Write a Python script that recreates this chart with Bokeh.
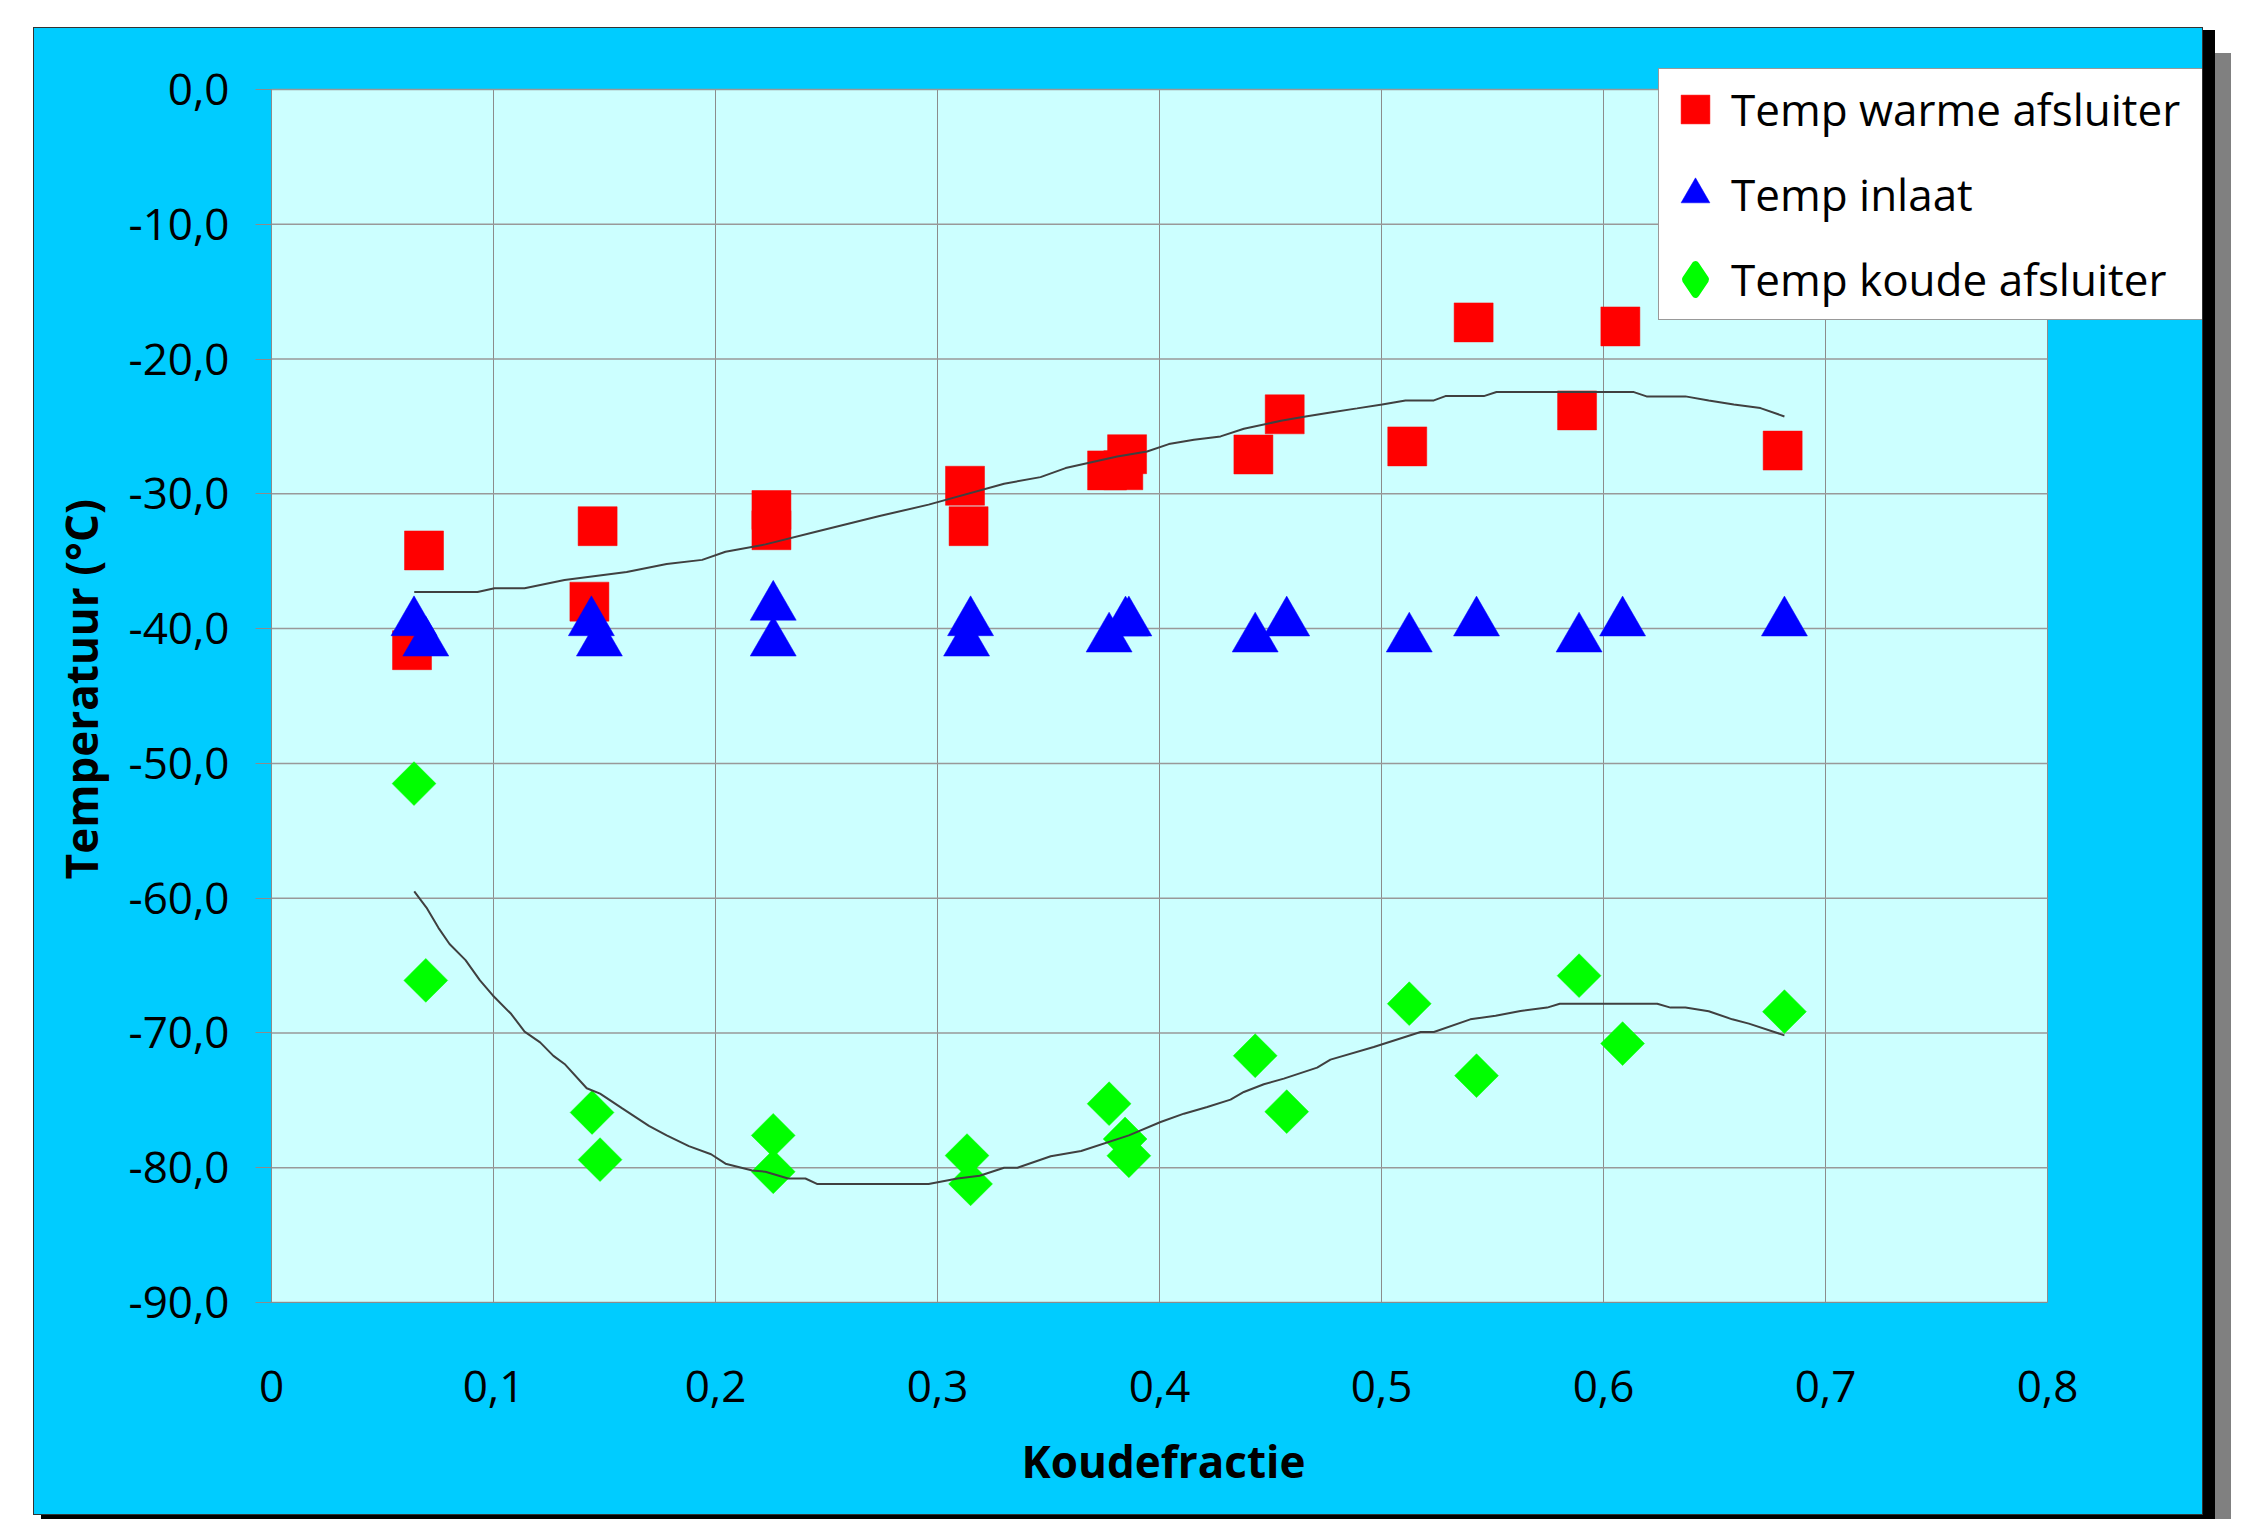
from bokeh.plotting import figure
from bokeh.models import Range1d, FixedTicker, Legend, LegendItem, ColumnDataSource, Title
from bokeh.transform import dodge
from bokeh.embed import file_html
from bokeh.resources import INLINE

# ---------------- data ----------------
warm_x = [0.0633, 0.0687, 0.1432, 0.1469, 0.2252, 0.2252, 0.3124, 0.3140, 0.3764,
          0.3837, 0.3854, 0.4423, 0.4564, 0.5116, 0.5415, 0.5881, 0.6076, 0.6807]
warm_y = [-41.6, -34.2, -38.0, -32.4, -31.2, -32.7, -29.4, -32.4, -28.26,
          -28.25, -27.06, -27.08, -24.1, -26.48, -17.28, -23.81, -17.58, -26.79]

inlaat_x = [0.0642, 0.0695, 0.1441, 0.1477, 0.2260, 0.2260, 0.3131, 0.3149, 0.3773,
            0.3847, 0.3862, 0.4431, 0.4573, 0.5125, 0.5428, 0.5890, 0.6086, 0.6815]
inlaat_y = [-39.05, -40.56, -39.05, -40.56, -37.9, -40.56, -40.56, -39.05, -40.26,
            -39.07, -39.07, -40.26, -39.07, -40.26, -39.07, -40.26, -39.07, -39.07]

koude_x = [0.0642, 0.0695, 0.1444, 0.1480, 0.2260, 0.2260, 0.3133, 0.3149, 0.3773,
           0.3845, 0.3862, 0.4431, 0.4573, 0.5125, 0.5428, 0.5890, 0.6086, 0.6815]
koude_y = [-51.5, -66.1, -75.9, -79.4, -77.6, -80.3, -79.1, -81.2, -75.25,
           -77.87, -79.11, -71.69, -75.84, -67.83, -73.17, -65.75, -70.79, -68.42]

trend_warm_x = [0.0643, 0.0928, 0.1005, 0.114, 0.132, 0.160, 0.178, 0.194, 0.2045, 0.2225,
                0.2457, 0.2739, 0.296, 0.330, 0.3464, 0.3577, 0.381, 0.3944, 0.4042, 0.4155,
                0.4275, 0.438, 0.4553, 0.4665, 0.477, 0.489, 0.5003, 0.5108, 0.5236, 0.5288,
                0.5461, 0.5518, 0.6137, 0.6194, 0.6369, 0.6474, 0.6587, 0.6707, 0.6815]
trend_warm_y = [-37.29, -37.29, -37.0, -37.0, -36.4, -35.8, -35.2, -34.9, -34.3, -33.75,
                -32.8, -31.65, -30.8, -29.25, -28.76, -28.09, -27.23, -26.86, -26.31, -25.99,
                -25.74, -25.17, -24.56, -24.24, -23.96, -23.66, -23.37, -23.07, -23.07, -22.75,
                -22.75, -22.45, -22.45, -22.77, -22.77, -23.07, -23.37, -23.64, -24.26]

trend_koude_x = [0.0643, 0.0698, 0.0752, 0.0802, 0.0874, 0.0939, 0.0996, 0.108, 0.114, 0.121,
                 0.127, 0.132, 0.142, 0.148, 0.158, 0.170, 0.178, 0.188, 0.198, 0.2045,
                 0.2166, 0.2225, 0.2327, 0.2405, 0.2457, 0.296, 0.309, 0.319, 0.330, 0.336,
                 0.351, 0.3647, 0.3862, 0.4005, 0.411, 0.4215, 0.432, 0.438, 0.447, 0.456,
                 0.471, 0.477, 0.4965, 0.5176, 0.5236, 0.540, 0.5514, 0.5626, 0.5746, 0.5803,
                 0.6242, 0.6302, 0.6369, 0.6474, 0.658, 0.6655, 0.6815]
trend_koude_y = [-59.5, -60.7, -62.2, -63.4, -64.6, -66.1, -67.2, -68.6, -69.9, -70.7,
                 -71.7, -72.3, -74.1, -74.5, -75.6, -76.9, -77.6, -78.4, -79.0, -79.7,
                 -80.2, -80.3, -80.8, -80.8, -81.2, -81.2, -80.8, -80.6, -80.0, -80.0,
                 -79.15, -78.76, -77.6, -76.61, -75.99, -75.5, -74.95, -74.38, -73.81, -73.39,
                 -72.57, -71.98, -71.04, -69.93, -69.93, -68.99, -68.72, -68.37, -68.12, -67.83,
                 -67.83, -68.12, -68.12, -68.39, -68.99, -69.31, -70.18]

x_ticks = [0, 0.1, 0.2, 0.3, 0.4, 0.5, 0.6, 0.7, 0.8]
x_tick_labels = ["0", "0,1", "0,2", "0,3", "0,4", "0,5", "0,6", "0,7", "0,8"]
y_ticks = [-90, -80, -70, -60, -50, -40, -30, -20, -10, 0]
y_tick_labels = ["-90,0", "-80,0", "-70,0", "-60,0", "-50,0", "-40,0", "-30,0", "-20,0", "-10,0", "0,0"]

series_labels = ["Temp warme afsluiter", "Temp inlaat", "Temp koude afsluiter"]
x_title = "Koudefractie"
y_title = "Temperatuur  (°C)"

# ---------------- layout (pixels) ----------------
FONT = "Open Sans"
GRID = "#8c8c8c"
OUTER = "#00CCFF"
FIG_W, FIG_H = 2168, 1486
B_LEFT, B_RIGHT, B_TOP, B_BOTTOM = 237, 0, 36, 212
PLOT_W, PLOT_H = 1776, 1213                      # visible plot area in px
FRAME_W = FIG_W - B_LEFT - B_RIGHT
FRAME_H = FIG_H - B_TOP - B_BOTTOM

x0, x1 = x_ticks[0], x_ticks[-1]
y0, y1 = y_ticks[0], y_ticks[-1]
x_end = x0 + (x1 - x0) * FRAME_W / PLOT_W
y_end = y0 + (y1 - y0) * FRAME_H / PLOT_H

p = figure(width=FIG_W, height=FIG_H, x_range=Range1d(x0, x_end), y_range=Range1d(y0, y_end),
           output_backend="svg", toolbar_location=None,
           min_border_left=B_LEFT, min_border_right=B_RIGHT,
           min_border_top=B_TOP, min_border_bottom=B_BOTTOM)
p.margin = (28, 0, 0, 34)
p.styles = {"background-color": OUTER,
            "box-shadow": "0 0 0 1px #333333, 10px 5px 0 3px #000000, 29px 25px 0 0 #808080"}
p.border_fill_color = OUTER
p.background_fill_color = OUTER
p.outline_line_color = None
p.grid.visible = False

# plot area
p.quad(left=[x0], right=[x1], bottom=[y0], top=[y1], fill_color="#CCFFFF",
       line_color=GRID, line_width=1, level="image")

# grid lines
p.segment(x0=x_ticks, y0=[y0] * len(x_ticks), x1=x_ticks, y1=[y1] * len(x_ticks),
          line_color=GRID, line_width=1)
p.segment(x0=[x0] * len(y_ticks), y0=y_ticks, x1=[x1] * len(y_ticks), y1=y_ticks,
          line_color="#999999", line_width=1.5)

# axes
p.xaxis.ticker = FixedTicker(ticks=x_ticks)
p.xaxis.major_label_overrides = dict(zip(x_ticks, x_tick_labels))
p.xaxis.bounds = (x0, x1)
p.yaxis.ticker = FixedTicker(ticks=y_ticks)
p.yaxis.major_label_overrides = dict(zip(y_ticks, y_tick_labels))
p.yaxis.bounds = (y0, y1)

for ax in (p.xaxis[0], p.yaxis[0]):
    ax.axis_line_color = GRID
    ax.major_tick_line_color = GRID
    ax.minor_tick_line_color = None
    ax.major_tick_in = 0
    ax.major_label_text_font = FONT
    ax.major_label_text_font_size = "44px"
    ax.major_label_text_color = "black"
    ax.axis_label_text_font = FONT
    ax.axis_label_text_font_size = "44px"
    ax.axis_label_text_font_style = "bold"
    ax.axis_label_text_color = "black"

p.xaxis.major_tick_out = 0
p.xaxis.major_label_standoff = 68

p.yaxis.major_tick_out = 16
p.yaxis.major_label_standoff = 26
p.yaxis.axis_label = y_title
p.yaxis.axis_label_standoff = 14

# x axis title, placed under the centre of the visible plot area
p.add_layout(Title(text=x_title, align="left", offset=750, standoff=48,
                   text_font=FONT, text_font_size="44px", text_font_style="bold",
                   text_color="black"), "below")

# markers
src_w = ColumnDataSource(dict(x=warm_x, y=warm_y))
src_i = ColumnDataSource(dict(x=inlaat_x, y=inlaat_y))
src_k = ColumnDataSource(dict(x=koude_x, y=koude_y))

r_w = p.scatter("x", "y", source=src_w, marker="square", size=39,
                fill_color="#FF0000", line_color="#FF0000", line_width=0.5)
r_i = p.scatter("x", dodge("y", -0.49, range=p.y_range), source=src_i, marker="triangle", size=46,
                fill_color="#0000FF", line_color="#0000FF", line_width=0.5)
r_k = p.scatter("x", "y", source=src_k, marker="square", size=31, angle=0.7853981634,
                fill_color="#00FF00", line_color="#00FF00", line_width=0.5)
# legend-only proxy (size 0 in the plot, hidden under the diamonds) for the diamond symbol
r_k_leg = p.scatter("x", "y", source=src_k, marker="diamond", size=0,
                    fill_color="#00FF00", line_color="#00FF00", line_width=8, line_join="round")

# trend lines
p.line(trend_warm_x, trend_warm_y, line_color="#404040", line_width=2)
p.line(trend_koude_x, trend_koude_y, line_color="#404040", line_width=2)

legend = Legend(items=[LegendItem(label=series_labels[0], renderers=[r_w]),
                       LegendItem(label=series_labels[1], renderers=[r_i]),
                       LegendItem(label=series_labels[2], renderers=[r_k_leg])],
                location=(1387, 982), orientation="vertical",
                glyph_width=72, glyph_height=80, label_standoff=0, padding=0, spacing=5,
                label_width=560, margin=0, label_text_font=FONT, label_text_font_size="44px",
                label_text_color="black",
                border_line_color="#333333", border_line_width=1,
                background_fill_color="white", background_fill_alpha=1.0)
p.add_layout(legend)

open("out.html", "w").write(file_html(p, INLINE))
